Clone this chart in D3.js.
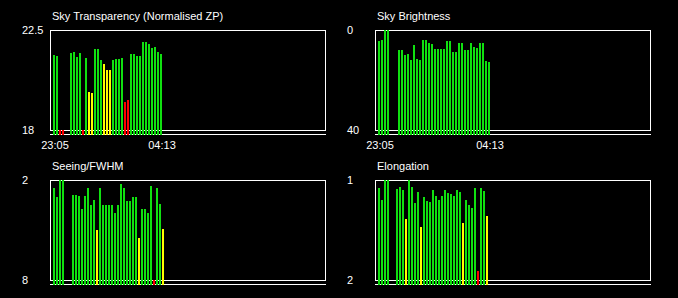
<!DOCTYPE html>
<html>
<head>
<meta charset="utf-8">
<script src="https://cdn.jsdelivr.net/npm/d3@7"></script>
<style>
    html, body { margin: 0; padding: 0; background: #000; }
    svg { display: block; }
    text { font-family: "Liberation Sans", Arial, sans-serif; font-size: 11px; fill: #fff; }
</style>
</head>
<body>
<div id="chart"></div>
<script>
// observation times, one list per metric
const timesTransparency = ["23:05","23:13","23:22","23:30","23:53","00:01","00:09","00:18","00:26","00:35","00:43","00:51","01:00","01:08","01:17","01:25","01:33","01:42","01:50","01:59","02:07","02:15","02:24","02:32","02:41","02:49","02:57","03:06","03:14","03:23","03:31","03:39","03:48","03:56","04:05"];
const timesBrightness = ["23:05","23:13","23:22","23:30","00:01","00:09","00:18","00:26","00:35","00:43","00:51","01:00","01:08","01:17","01:25","01:33","01:42","01:50","01:59","02:07","02:15","02:24","02:32","02:41","02:49","02:57","03:06","03:14","03:23","03:31","03:39","03:48","03:56","04:05","04:13"];
const timesSeeing = ["23:05","23:13","23:22","23:30","23:58","00:07","00:15","00:23","00:32","00:40","00:49","00:57","01:05","01:14","01:22","01:31","01:39","01:47","01:56","02:04","02:13","02:21","02:29","02:38","02:46","02:55","03:03","03:11","03:20","03:28","03:37","03:45","03:53","04:02","04:10"];
const timesElongation = ["23:05","23:13","23:22","23:30","23:55","00:04","00:12","00:21","00:29","00:37","00:46","00:54","01:03","01:11","01:19","01:28","01:36","01:45","01:53","02:01","02:10","02:18","02:27","02:35","02:43","02:52","03:00","03:09","03:17","03:25","03:34","03:42","03:51","03:59","04:07"];

const transparency = [21.39, 21.34, 17.6, 17.6, 21.48, 21.52, 21.30, 21.48, 17.6, 21.25, 19.72, 19.68, 21.66, 21.66, 21.16, 20.98, 20.71, 20.71, 21.16, 21.21, 21.21, 21.25, 19.27, 19.36, 21.43, 21.43, 21.34, 21.34, 21.97, 21.97, 21.88, 21.70, 21.75, 21.52, 21.43];
const brightness = [4.4, 4.0, 0, 0, 8.0, 8.0, 10.0, 9.6, 12.0, 6.0, 11.6, 12.0, 4.0, 4.0, 5.2, 5.6, 7.6, 7.6, 7.6, 7.6, 4.4, 4.4, 8.8, 8.8, 5.2, 5.2, 8.0, 8.0, 5.2, 6.8, 7.2, 5.2, 5.2, 12.4, 12.8];
const seeing = [2.48, 3.02, 2.0, 2.0, 2.90, 2.90, 2.96, 3.74, 2.96, 2.48, 3.50, 3.20, 5.00, 2.48, 3.50, 3.50, 3.50, 3.50, 3.98, 3.50, 2.24, 2.48, 3.26, 3.26, 3.02, 3.02, 5.48, 3.74, 3.74, 3.98, 2.36, 8.6, 2.48, 3.44, 4.94];
const elongation = [1.08, 1.20, 1.00, 1.00, 1.09, 1.07, 1.10, 1.39, 1.00, 1.07, 1.23, 1.12, 1.47, 1.17, 1.21, 1.22, 1.10, 1.16, 1.20, 1.16, 1.10, 1.13, 1.14, 1.16, 1.10, 1.12, 1.43, 1.20, 1.25, 1.28, 1.08, 1.91, 1.08, 1.11, 1.36];

const titles = ["Sky Transparency (Normalised ZP)", "Sky Brightness", "Seeing/FWHM", "Elongation"];
const yTickLabels = [["22.5", "18"], ["0", "40"], ["2", "8"], ["1", "2"]];
const timeLabels = ["23:05", "04:13"];
const xDomain = ["22:54", "11:44"];

const green = "#10e010", yellow = "#ffff00", red = "#ff0000";

const W = 678, H = 298;
const frameW = 275, frameH = 100;

// evening times belong to day 1, morning times to day 2
function parseTime(s) {
    const [h, m] = s.split(":").map(Number);
    return new Date(2000, 0, h >= 12 ? 1 : 2, h, m);
}

const x = d3.scaleTime().domain(xDomain.map(parseTime)).range([0, frameW]);

const panels = [
    {title: titles[0], times: timesTransparency, values: transparency, ticks: yTickLabels[0],
        domain: [18, 22.5], left: 50, top: 30, timeAxis: true,
        color: d3.scaleThreshold().domain([19.5, 21.1]).range([red, yellow, green])},
    {title: titles[1], times: timesBrightness, values: brightness, ticks: yTickLabels[1],
        domain: [40, 0], left: 375, top: 30, timeAxis: true,
        color: () => green},
    {title: titles[2], times: timesSeeing, values: seeing, ticks: yTickLabels[2],
        domain: [8, 2], left: 50, top: 180, timeAxis: false,
        color: d3.scaleThreshold().domain([4.5, 7]).range([green, yellow, red])},
    {title: titles[3], times: timesElongation, values: elongation, ticks: yTickLabels[3],
        domain: [2, 1], left: 375, top: 180, timeAxis: false,
        color: d3.scaleThreshold().domain([1.3, 1.6]).range([green, yellow, red])}
];

const svg = d3.select("#chart").append("svg")
    .attr("width", W)
    .attr("height", H);

svg.append("rect").attr("width", W).attr("height", H).attr("fill", "#000");

panels.forEach(p => {
    const y = d3.scaleLinear().domain(p.domain).range([p.top + frameH, p.top]).clamp(true);
    const base = p.top + frameH + 5;
    const data = p.values.map((v, i) => ({t: parseTime(p.times[i]), v: v}));
    const g = svg.append("g");

    // frame and the line under it
    g.append("rect")
        .attr("x", p.left + 0.5)
        .attr("y", p.top + 0.5)
        .attr("width", frameW)
        .attr("height", frameH)
        .attr("fill", "none")
        .attr("stroke", "#fff");

    g.append("line")
        .attr("x1", p.left)
        .attr("x2", p.left + frameW + 1)
        .attr("y1", base - 0.5)
        .attr("y2", base - 0.5)
        .attr("stroke", "#fff");

    g.selectAll(".bar")
        .data(data)
        .enter().append("rect")
        .attr("class", "bar")
        .attr("x", d => Math.round(p.left + x(d.t)) - 1)
        .attr("y", d => Math.round(y(d.v)))
        .attr("width", 2)
        .attr("height", d => base - Math.round(y(d.v)))
        .attr("fill", d => p.color(d.v));

    g.append("text")
        .attr("x", p.left + 2)
        .attr("y", p.top - 10)
        .text(p.title);

    g.append("text")
        .attr("x", p.left - 28)
        .attr("y", p.top + 4)
        .text(p.ticks[0]);

    g.append("text")
        .attr("x", p.left - 28)
        .attr("y", p.top + frameH + 4)
        .text(p.ticks[1]);

    if (p.timeAxis) {
        const ends = [data[0], data[data.length - 1]];
        g.selectAll(".time")
            .data(ends)
            .enter().append("text")
            .attr("class", "time")
            .attr("text-anchor", "middle")
            .attr("x", d => Math.round(p.left + x(d.t)) + 1)
            .attr("y", p.top + frameH + 19)
            .text((d, i) => timeLabels[i]);
    }
});
</script>
</body>
</html>
